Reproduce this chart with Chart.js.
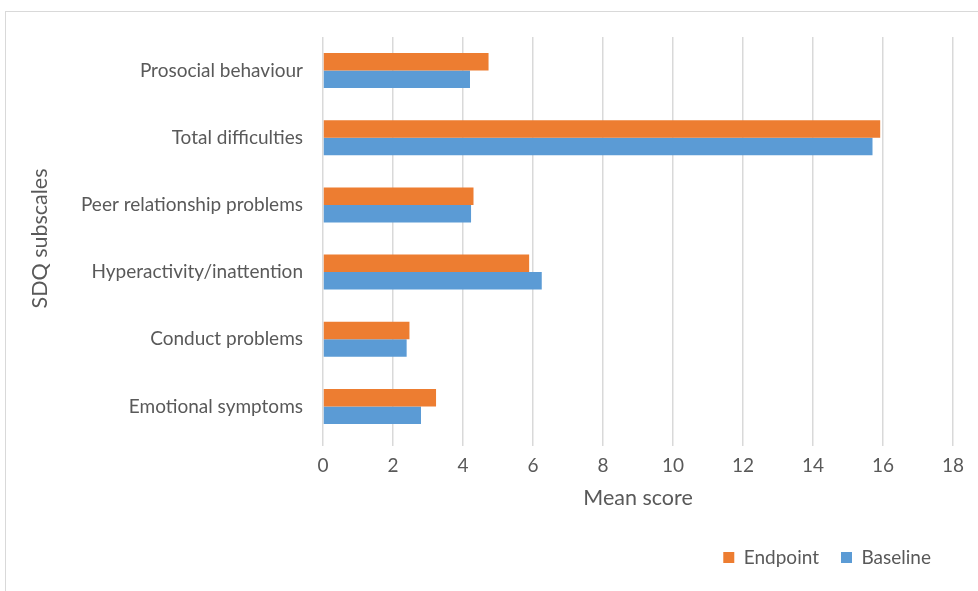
<!DOCTYPE html>
<html>
<head>
<meta charset="utf-8">
<script src="https://cdn.jsdelivr.net/npm/chart.js@4.4.0/dist/chart.umd.min.js"></script>
<style>
    html, body { margin: 0; padding: 0; background: #fff; }
    #wrap { position: relative; width: 978px; height: 591px; overflow: hidden; }
    #frame { position: absolute; left: 5px; top: 11px; width: 990px; height: 600px; border: 1px solid #d9d9d9; box-sizing: border-box; }
    #chartBox { position: absolute; left: 0; top: 0; width: 978px; height: 591px; }
</style>
</head>
<body>
<div id="wrap">
    <div id="frame"></div>
    <div id="chartBox"><canvas id="sdqChart"></canvas></div>
</div>
<script>
// data
const categories = [
    'Prosocial behaviour',
    'Total difficulties',
    'Peer relationship problems',
    'Hyperactivity/inattention',
    'Conduct problems',
    'Emotional symptoms'
];
const endpointScores = [4.73, 15.92, 4.30, 5.89, 2.47, 3.23];
const baselineScores = [4.20, 15.70, 4.23, 6.25, 2.39, 2.80];
const xTicks = [0, 2, 4, 6, 8, 10, 12, 14, 16, 18];

const textColor = '#595959';
const gridColor = '#d9d9d9';
Chart.defaults.font.family = 'Lato, "Open Sans", sans-serif';
Chart.defaults.color = textColor;

new Chart(document.getElementById('sdqChart'), {
    type: 'bar',
    data: {
        labels: categories,
        datasets: [{
            label: 'Endpoint',
            data: endpointScores,
            backgroundColor: '#ED7D31',
            categoryPercentage: 0.52,
            barPercentage: 1
        }, {
            label: 'Baseline',
            data: baselineScores,
            backgroundColor: '#5B9BD5',
            categoryPercentage: 0.52,
            barPercentage: 1
        }]
    },
    options: {
        indexAxis: 'y',
        responsive: true,
        maintainAspectRatio: false,
        animation: false,
        layout: { padding: { top: 37, right: 25, bottom: 14, left: 0 } },
        plugins: {
            legend: {
                position: 'bottom',
                align: 'end',
                labels: {
                    boxWidth: 11,
                    boxHeight: 11,
                    padding: 22,
                    font: { size: 19 },
                    color: textColor
                }
            },
            tooltip: { enabled: false }
        },
        scales: {
            x: {
                min: 0,
                max: 18,
                afterBuildTicks: function (scale) {
                    scale.ticks = xTicks.map(v => ({ value: v }));
                },
                grid: { color: gridColor, lineWidth: 1.5, drawTicks: true, tickLength: 6 },
                border: { display: false },
                ticks: { font: { size: 19 }, padding: 8, color: textColor },
                title: { display: true, text: 'Mean score', font: { size: 21.5 }, color: textColor, padding: { top: 2, bottom: 15 } },
                afterFit: function (scale) { scale.height = 86; }
            },
            y: {
                grid: { display: false, drawTicks: false },
                border: { display: false },
                ticks: { font: { size: 19 }, padding: 20, color: textColor },
                title: { display: true, text: 'SDQ subscales', font: { size: 21.5 }, color: textColor, padding: { top: 27, bottom: 0 } },
                afterFit: function (scale) { scale.width = 323; }
            }
        }
    }
});
</script>
</body>
</html>
